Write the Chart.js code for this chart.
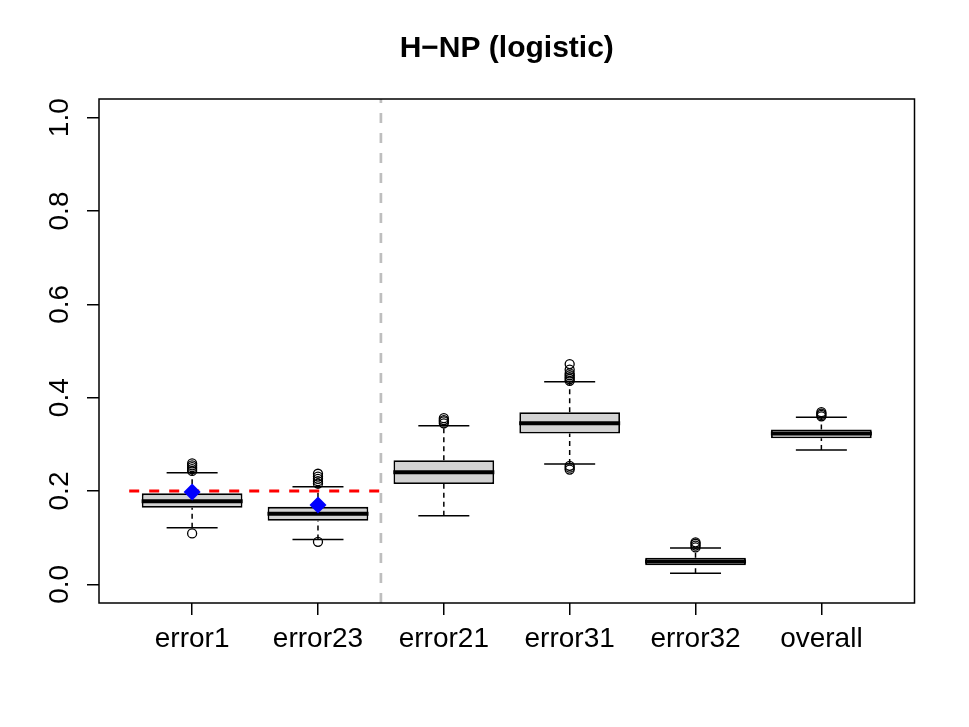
<!DOCTYPE html>
<html lang="en">
<head>
<meta charset="UTF-8">
<title>H-NP (logistic)</title>
<script src="https://cdn.jsdelivr.net/npm/chart.js"></script>
<style>
  html, body { margin: 0; padding: 0; background: #fff; }
  #wrap { position: relative; width: 969px; height: 727px; }
</style>
</head>
<body>
<div id="wrap"><canvas id="boxChart"></canvas></div>
<script>
// categories and box statistics
var categories = ["error1", "error23", "error21", "error31", "error32", "overall"];
var lowerWhisker = [0.121, 0.096, 0.147, 0.258, 0.024, 0.288];
var q1 = [0.164, 0.136, 0.215, 0.323, 0.041, 0.313];
var medians = [0.178, 0.151, 0.240, 0.345, 0.049, 0.323];
var q3 = [0.195, 0.166, 0.266, 0.369, 0.057, 0.332];
var upperWhisker = [0.239, 0.209, 0.340, 0.434, 0.078, 0.358];
var outliers = [
    [0.109, 0.243, 0.247, 0.251, 0.255, 0.259],
    [0.091, 0.216, 0.221, 0.226, 0.231, 0.237],
    [0.345, 0.349, 0.352, 0.356],
    [0.246, 0.250, 0.254, 0.436, 0.440, 0.444, 0.448, 0.452, 0.460, 0.472],
    [0.079, 0.083, 0.087, 0.090],
    [0.360, 0.363, 0.366, 0.369]
];
// target values (blue diamonds) and the 0.2 reference segment
var targetCategories = [1, 2];
var targetValues = [0.198, 0.170];
var alphaLevel = 0.2;
var alphaFrom = 0.5;
var alphaTo = 2.5;
var dividerAt = 2.5;
var yTicks = [0, 0.2, 0.4, 0.6, 0.8, 1.0];
var yMin = -0.04, yMax = 1.04;

var fontFamily = "'Liberation Sans', Arial, Helvetica, sans-serif";

// build datasets from the arrays
var boxData = [], medianData = [], capData = [], whiskerData = [], outlierData = [];
for (var i = 0; i < categories.length; i++) {
    var x = i + 1;
    boxData.push({ x: x, y: [q1[i], q3[i]] });
    medianData.push({ x: x, y: medians[i] });
    capData.push({ x: x, y: lowerWhisker[i] });
    capData.push({ x: x, y: upperWhisker[i] });
    whiskerData.push({ x: x, y: lowerWhisker[i] }, { x: x, y: q1[i] }, { x: x, y: null });
    whiskerData.push({ x: x, y: q3[i] }, { x: x, y: upperWhisker[i] }, { x: x, y: null });
    for (var j = 0; j < outliers[i].length; j++) {
        outlierData.push({ x: x, y: outliers[i][j] });
    }
}
var targetData = targetCategories.map(function (c, k) { return { x: c, y: targetValues[k] }; });

// frame round the plot and rotated y labels, R style
var framePlugin = {
    id: "frame",
    afterDatasetsDraw: function (chart) {
        var ctx = chart.ctx, a = chart.chartArea;
        ctx.save();
        ctx.strokeStyle = "#000";
        ctx.lineWidth = 1.5;
        ctx.strokeRect(a.left, a.top, a.right - a.left, a.bottom - a.top);
        ctx.restore();
    },
    afterDraw: function (chart) {
        var ctx = chart.ctx, y = chart.scales.y;
        ctx.save();
        ctx.fillStyle = "#000";
        ctx.font = "28px " + fontFamily;
        ctx.textAlign = "center";
        ctx.textBaseline = "middle";
        yTicks.forEach(function (v) {
            ctx.save();
            ctx.translate(60, y.getPixelForValue(v));
            ctx.rotate(-Math.PI / 2);
            ctx.fillText(v.toFixed(1), 0, 0);
            ctx.restore();
        });
        ctx.restore();
    }
};

new Chart(document.getElementById("boxChart"), {
    type: "bar",
    data: {
        datasets: [
            {
                type: "bar",
                data: boxData,
                backgroundColor: "#d3d3d3",
                borderColor: "#000",
                borderWidth: 1.8,
                borderSkipped: false,
                categoryPercentage: 1,
                barPercentage: 0.8,
                order: 10
            },
            {
                type: "line",
                data: whiskerData,
                borderColor: "#000",
                borderWidth: 1.5,
                borderDash: [5, 4],
                pointRadius: 0,
                spanGaps: false,
                fill: false,
                order: 9
            },
            {
                type: "scatter",
                data: medianData,
                pointStyle: "line",
                pointRadius: 50.5,
                borderColor: "#000",
                borderWidth: 4,
                order: 8
            },
            {
                type: "scatter",
                data: capData,
                pointStyle: "line",
                pointRadius: 25.5,
                borderColor: "#000",
                borderWidth: 1.5,
                order: 8
            },
            {
                type: "scatter",
                data: outlierData,
                pointStyle: "circle",
                pointRadius: 4.5,
                backgroundColor: "rgba(0,0,0,0)",
                borderColor: "#000",
                borderWidth: 1.3,
                order: 7
            },
            {
                type: "line",
                data: [{ x: dividerAt, y: yMin }, { x: dividerAt, y: yMax }],
                borderColor: "#bebebe",
                borderWidth: 2.7,
                borderDash: [10, 10],
                pointRadius: 0,
                fill: false,
                order: 6
            },
            {
                type: "line",
                data: [{ x: alphaFrom, y: alphaLevel }, { x: alphaTo, y: alphaLevel }],
                borderColor: "#ff0000",
                borderWidth: 3,
                borderDash: [10, 10],
                pointRadius: 0,
                fill: false,
                order: 5
            },
            {
                type: "scatter",
                data: targetData,
                pointStyle: "rectRot",
                pointRadius: 8.5,
                backgroundColor: "#0000ff",
                borderColor: "#0000ff",
                borderWidth: 0,
                order: 1
            }
        ]
    },
    options: {
        responsive: true,
        maintainAspectRatio: false,
        animation: false,
        events: [],
        layout: { padding: { top: 0, right: 47, bottom: 0, left: 0 } },
        plugins: {
            legend: { display: false },
            tooltip: { enabled: false },
            title: {
                display: true,
                text: "H\u2212NP (logistic)",
                fullSize: false,
                color: "#000",
                font: { family: fontFamily, size: 30, weight: "bold", lineHeight: 1.2 },
                padding: { top: 31, bottom: 32 }
            }
        },
        scales: {
            x: {
                type: "linear",
                min: 0.26,
                max: 6.74,
                offset: false,
                afterBuildTicks: function (scale) {
                    scale.ticks = categories.map(function (c, k) { return { value: k + 1 }; });
                },
                afterFit: function (scale) { scale.height = 124; },
                grid: {
                    display: true,
                    offset: false,
                    drawOnChartArea: false,
                    drawTicks: true,
                    tickLength: 12,
                    color: "#000",
                    lineWidth: 1.5
                },
                border: { display: false },
                ticks: {
                    autoSkip: false,
                    maxRotation: 0,
                    minRotation: 0,
                    padding: 7,
                    color: "#000",
                    font: { family: fontFamily, size: 28 },
                    callback: function (v) { return categories[v - 1]; }
                }
            },
            y: {
                type: "linear",
                min: yMin,
                max: yMax,
                afterBuildTicks: function (scale) {
                    scale.ticks = yTicks.map(function (v) { return { value: v }; });
                },
                afterFit: function (scale) { scale.width = 99; },
                grid: {
                    display: true,
                    drawOnChartArea: false,
                    drawTicks: true,
                    tickLength: 12,
                    color: "#000",
                    lineWidth: 1.5
                },
                border: { display: false },
                ticks: { display: false }
            }
        }
    },
    plugins: [framePlugin]
});
</script>
</body>
</html>
